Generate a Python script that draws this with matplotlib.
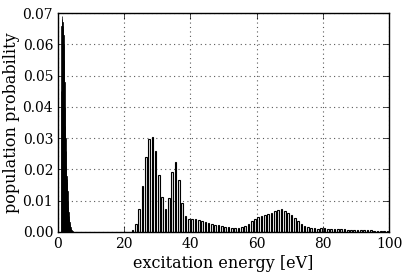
import numpy as np
import matplotlib
matplotlib.use('Agg')
import matplotlib.pyplot as plt

# low-energy part, fine bins (0.1 eV)
low_energy = np.round(np.arange(1.0, 4.55, 0.1), 1)
low_prob = [0.045, 0.066, 0.069, 0.068, 0.067, 0.066, 0.065, 0.063, 0.060, 0.055,
            0.048, 0.040, 0.034, 0.030, 0.026, 0.021, 0.018, 0.017, 0.016, 0.013,
            0.010, 0.008, 0.0065, 0.0052, 0.0042, 0.0033, 0.0026, 0.0020, 0.0015, 0.0011,
            0.0008, 0.0006, 0.0004, 0.0003, 0.0002, 0.0001]

# high-energy part, 1 eV bins
high_energy = np.arange(22.5, 100, 1.0)
high_prob = [0.0006, 0.0026, 0.0072, 0.0148, 0.0240, 0.0298, 0.0305, 0.0258, 0.0182, 0.0112,
             0.0075, 0.0108, 0.0193, 0.0225, 0.0167, 0.0092, 0.0050, 0.0041, 0.0041, 0.0042,
             0.0039, 0.0035, 0.0031, 0.0028, 0.0026, 0.0023, 0.0022, 0.0019, 0.0017, 0.0015,
             0.0014, 0.0013, 0.0013, 0.0016, 0.0020, 0.0027, 0.0035, 0.0041, 0.0048, 0.0051,
             0.0053, 0.0056, 0.0061, 0.0066, 0.0070, 0.0072, 0.0068, 0.0062, 0.0054, 0.0044,
             0.0034, 0.0025, 0.0019, 0.0016, 0.0014, 0.0012, 0.0011, 0.0012, 0.0012, 0.0011,
             0.0011, 0.0010, 0.0010, 0.0009, 0.0008, 0.0007, 0.0007, 0.0006, 0.0006, 0.0005,
             0.0005, 0.0005, 0.0005, 0.0004, 0.0004, 0.0004, 0.0004, 0.0004]

plt.rcParams['font.family'] = 'DejaVu Serif'
plt.rcParams['xtick.direction'] = 'in'
plt.rcParams['ytick.direction'] = 'in'

fig = plt.figure(figsize=(4.07, 2.77), dpi=100)
ax = fig.add_axes([0.1425, 0.1625, 0.8135, 0.7905])

ax.bar(low_energy, low_prob, width=0.1, color='k', edgecolor='k', linewidth=0.5)
ax.bar(high_energy, high_prob, width=0.5, facecolor='0.9', edgecolor='k', linewidth=0.8)

ax.set_xlim(0, 100)
ax.set_ylim(0, 0.07)
ax.set_xticks([0, 20, 40, 60, 80, 100])
ax.set_yticks(np.arange(0, 0.071, 0.01))
ax.set_yticklabels(['0.00', '0.01', '0.02', '0.03', '0.04', '0.05', '0.06', '0.07'])
ax.tick_params(top=True, right=True, labelsize=10, length=4, width=0.5, pad=3.5)
ax.grid(True, linestyle=(0, (1, 3)), color='0.35', linewidth=0.8)
ax.set_axisbelow(True)
for s in ax.spines.values():
    s.set_linewidth(1.0)

ax.set_xlabel('excitation energy [eV]', fontsize=11.5, labelpad=3)
ax.set_ylabel('population probability', fontsize=11.5, labelpad=2)

fig.savefig('out.png', dpi=100)
